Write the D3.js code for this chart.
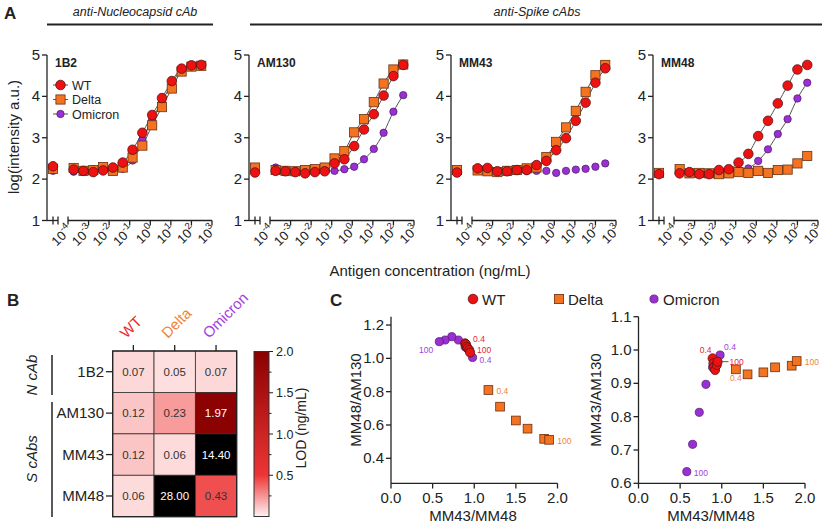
<!DOCTYPE html>
<html><head><meta charset="utf-8">
<script src="https://cdn.jsdelivr.net/npm/d3@7"></script>
<style>body{margin:0;background:#fff} text{font-family:Arial,"Liberation Sans",sans-serif;fill:#222}</style>
</head><body>
<svg id="c" width="825" height="531"></svg>
<script>
// ---------- DATA ----------
const concentrations = [0.000188,0.000565,0.001694,0.00508,0.01524,0.0457,0.1372,0.4115,1.235,3.704,11.11,33.33,100,300];
const panelNames = ["1B2","AM130","MM43","MM48"];
const tickExponents = [-4,-3,-2,-1,0,1,2,3];
const yTicksA = [1,2,3,4,5];

const wt1B2      = [2.23,2.20,2.17,2.21,2.28,2.40,2.71,3.12,3.55,3.96,4.37,4.67,4.75,4.76];
const delta1B2   = [2.27,2.20,2.22,2.29,2.20,2.28,2.52,2.81,3.30,3.74,4.19,4.60,4.72,4.74];
const omicron1B2 = [2.18,2.20,2.24,2.22,2.20,2.25,2.45,2.95,3.45,3.88,4.30,4.64,4.73,4.75];

const wtAM130      = [2.20,2.19,2.17,2.14,2.17,2.19,2.38,2.48,2.80,3.20,3.57,4.02,4.49,4.76];
const deltaAM130   = [2.22,2.20,2.19,2.22,2.24,2.28,2.50,2.68,3.13,3.45,3.86,4.31,4.65,4.77];
const omicronAM130 = [2.28,2.20,2.19,2.18,2.19,2.20,2.20,2.24,2.30,2.48,2.73,3.12,3.63,4.03];

const wtMM43      = [2.26,2.27,2.19,2.19,2.22,2.22,2.34,2.44,2.70,2.99,3.41,3.85,4.33,4.68];
const deltaMM43   = [2.21,2.19,2.17,2.20,2.22,2.26,2.28,2.53,2.90,3.25,3.65,4.11,4.51,4.76];
const omicronMM43 = [2.20,2.20,2.18,2.20,2.20,2.20,2.20,2.20,2.15,2.20,2.23,2.25,2.30,2.38];

const wtMM48      = [2.14,2.17,2.12,2.12,2.22,2.24,2.40,2.61,3.04,3.41,3.83,4.26,4.65,4.76];
const deltaMM48   = [2.24,2.14,2.15,2.14,2.12,2.14,2.17,2.15,2.20,2.15,2.22,2.23,2.38,2.56];
const omicronMM48 = [2.15,2.15,2.14,2.14,2.15,2.16,2.20,2.26,2.44,2.72,3.09,3.45,3.95,4.33];

const blankWT      = [2.31,2.16,2.16,2.12];
const blankDelta   = [2.25,2.28,2.22,2.15];
const blankOmicron = [2.20,2.20,2.20,2.15];

// which series carry a fitted curve in each panel
const curveWT      = [true,true,true,true];
const curveDelta   = [true,true,true,false];
const curveOmicron = [true,true,false,true];

// Panel B
const heatRows = ["1B2","AM130","MM43","MM48"];
const heatCols = ["WT","Delta","Omicron"];
const lodWT      = [0.07,0.12,0.12,0.06];
const lodDelta   = [0.05,0.23,0.06,28.00];
const lodOmicron = [0.07,1.97,14.40,0.43];
const colorbarTicks = [0.5,1.0,1.5,2.0];

// Panel C  (ratios at 0.4 -> 100 ng/mL)
const ratioConc = [0.4,1.2,3.7,11,33,100];
const wtRatioX      = [0.89,0.90,0.91,0.92,0.94,0.95];
const deltaRatioX   = [1.17,1.31,1.50,1.64,1.84,1.90];
const omicronRatioX = [0.98,0.89,0.81,0.73,0.65,0.58];
const wtMM48AM130      = [1.09,1.085,1.07,1.06,1.05,1.035];
const deltaMM48AM130   = [0.81,0.71,0.627,0.578,0.517,0.511];
const omicronMM48AM130 = [1.005,1.07,1.11,1.13,1.11,1.10];
const wtMM43AM130      = [0.975,0.96,0.95,0.94,0.955,0.965];
const deltaMM43AM130   = [0.942,0.927,0.933,0.948,0.953,0.967];
const omicronMM43AM130 = [0.985,0.948,0.897,0.813,0.717,0.635];
const cXTicks = [0.0,0.5,1.0,1.5,2.0];
const cLeftYTicks = [0.4,0.6,0.8,1.0,1.2];
const cRightYTicks = [0.6,0.7,0.8,0.9,1.0,1.1];

// ---------- STYLE ----------
const colWT = "#ee1111", colDelta = "#f47320", colOm = "#9a2fd4";
const strokeWT = "#5a1414", strokeDelta = "#6a3010", strokeOm = "#4a1866";
const labelCol = {WT:"#e8262e", Delta:"#f0843a", Omicron:"#a43ee0"};
const svg = d3.select("#c");

function marker(g, type, cx, cy, s) {
  s = s || 1;
  if (type === "Delta") {
    g.append("rect").attr("x",cx-4.6*s).attr("y",cy-4.6*s).attr("width",9.2*s).attr("height",9.2*s)
      .attr("fill",colDelta).attr("stroke",strokeDelta).attr("stroke-width",0.8);
  } else if (type === "WT") {
    g.append("circle").attr("cx",cx).attr("cy",cy).attr("r",4.8*s)
      .attr("fill",colWT).attr("stroke",strokeWT).attr("stroke-width",0.8);
  } else {
    g.append("circle").attr("cx",cx).attr("cy",cy).attr("r",3.7*s)
      .attr("fill",colOm).attr("stroke",strokeOm).attr("stroke-width",0.7);
  }
}
function ln(g,x1,y1,x2,y2,w,c){return g.append("line").attr("x1",x1).attr("y1",y1).attr("x2",x2).attr("y2",y2).attr("stroke",c||"#222").attr("stroke-width",w||1.3);}

// ---------- PANEL A ----------
svg.append("text").attr("x",4).attr("y",19).attr("font-size",17).attr("font-weight","bold").text("A");
svg.append("text").attr("x",135).attr("y",16).attr("text-anchor","middle").attr("font-size",12.5).attr("font-style","italic").text("anti-Nucleocapsid cAb");
ln(svg,47,24.5,213,24.5,2);
svg.append("text").attr("x",537).attr("y",16).attr("text-anchor","middle").attr("font-size",12.5).attr("font-style","italic").text("anti-Spike cAbs");
ln(svg,250,24.5,822,24.5,2);

const yA = d3.scaleLinear().domain([1,5]).range([220.5,55]);
const seriesA = {
  WT:      {vals:[wt1B2,wtAM130,wtMM43,wtMM48], blank:blankWT, curve:curveWT},
  Delta:   {vals:[delta1B2,deltaAM130,deltaMM43,deltaMM48], blank:blankDelta, curve:curveDelta},
  Omicron: {vals:[omicron1B2,omicronAM130,omicronMM43,omicronMM48], blank:blankOmicron, curve:curveOmicron}
};
const drawOrder = ["Omicron","Delta","WT"];

panelNames.forEach((name,i)=>{
  const ax = 47 + 202*i;
  const x = d3.scaleLog().domain([1e-4,1e3]).range([ax+21, ax+165]);
  const bx = ax + 6;
  const g = svg.append("g");
  // y axis
  ln(g,ax,yA(1),ax,yA(5));
  yTicksA.forEach(t=>{
    ln(g,ax-5,yA(t),ax,yA(t));
    g.append("text").attr("x",ax-7).attr("y",yA(t)+5).attr("text-anchor","end").attr("font-size",15).text(t);
  });
  // blank segment
  ln(g,ax,yA(1),ax+11,yA(1));
  ln(g,bx,yA(1)-4,bx,yA(1)+4);
  ln(g,ax+11,yA(1)-4,ax+11,yA(1)+4);
  // main segment
  ln(g,x(1e-4),yA(1),x(1e3),yA(1));
  tickExponents.forEach(e=>{
    const tx = x(Math.pow(10,e));
    if (e === -4) ln(g,tx,yA(1)-4,tx,yA(1)+4);
    else ln(g,tx,yA(1),tx,yA(1)+5);
    const t = g.append("text").attr("transform",`translate(${tx+5},${yA(1)+10}) rotate(-45)`)
      .attr("text-anchor","end").attr("font-size",13);
    t.append("tspan").text("10");
    t.append("tspan").attr("dy",-6).attr("font-size",9.5).text(e);
  });
  // curves
  drawOrder.forEach(s=>{
    if (!seriesA[s].curve[i]) return;
    const pts = concentrations.map((c,k)=>({c, v:seriesA[s].vals[i][k]}));
    g.append("path").datum(pts).attr("fill","none").attr("stroke","#555").attr("stroke-width",1)
      .attr("d", d3.line().x(d=>x(d.c)).y(d=>yA(d.v)).curve(d3.curveMonotoneX));
  });
  // markers
  drawOrder.forEach(s=>{
    marker(g, s, bx, yA(seriesA[s].blank[i]));
    concentrations.forEach((c,k)=> marker(g, s, x(c), yA(seriesA[s].vals[i][k])));
  });
  g.append("text").attr("x",ax+8).attr("y",67).attr("font-size",12).attr("font-weight","bold").text(name);
  if (i===0) {
    ["WT","Delta","Omicron"].forEach((s,k)=>{
      const ly = 85 + k*14.5;
      ln(g,ax+6,ly,ax+21,ly,1,"#555");
      marker(g,s,ax+13.5,ly);
      g.append("text").attr("x",ax+25).attr("y",ly+4.5).attr("font-size",12.5).text(s);
    });
  }
});
svg.append("text").attr("transform","translate(19,137) rotate(-90)").attr("text-anchor","middle").attr("font-size",15).text("log(intensity a.u.)");
svg.append("text").attr("x",430).attr("y",276).attr("text-anchor","middle").attr("font-size",15).text("Antigen concentration (ng/mL)");

// ---------- PANEL B ----------
svg.append("text").attr("x",7).attr("y",306).attr("font-size",17).attr("font-weight","bold").text("B");
const hx = d3.scaleBand().domain(heatCols).range([112.7,236.7]);
const hy = d3.scaleBand().domain(heatRows).range([351,516.7]);
const heatColor = d3.scaleLinear().domain([0,0.5,2]).range(["#fff2f2","#ee3535","#8a0000"]).clamp(true);
const fillOf = v => v > 2 ? "#000" : heatColor(v);
const lodCols = {WT:lodWT, Delta:lodDelta, Omicron:lodOmicron};
const gb = svg.append("g");
heatCols.forEach(c=>{
  heatRows.forEach((r,k)=>{
    const v = lodCols[c][k];
    gb.append("rect").attr("x",hx(c)).attr("y",hy(r)).attr("width",hx.bandwidth()).attr("height",hy.bandwidth())
      .attr("fill",fillOf(v)).attr("stroke","#333").attr("stroke-width",0.8);
    gb.append("text").attr("x",hx(c)+hx.bandwidth()/2).attr("y",hy(r)+hy.bandwidth()/2+4)
      .attr("text-anchor","middle").attr("font-size",11.5)
      .style("fill", v>=1.5 ? "#fff" : "#333").text(v.toFixed(2));
  });
});
gb.append("rect").attr("x",112.7).attr("y",351).attr("width",124).attr("height",165.7).attr("fill","none").attr("stroke","#222").attr("stroke-width",1.3);
heatCols.forEach(c=>{
  const cx = hx(c)+hx.bandwidth()/2;
  ln(gb,cx,345,cx,351);
  gb.append("text").attr("transform",`translate(${cx-7},339) rotate(-45)`).attr("font-size",15)
    .style("fill",labelCol[c]).text(c);
});
heatRows.forEach(r=>{
  const cy = hy(r)+hy.bandwidth()/2;
  ln(gb,106,cy,112.7,cy);
  gb.append("text").attr("x",104).attr("y",cy+5).attr("text-anchor","end").attr("font-size",15).text(r);
});
ln(gb,52,355,52,395,1.5);
ln(gb,52,402,52,517,1.5);
gb.append("text").attr("transform","translate(37,375) rotate(-90)").attr("text-anchor","middle").attr("font-size",15).attr("font-style","italic").text("N cAb");
gb.append("text").attr("transform","translate(37,459) rotate(-90)").attr("text-anchor","middle").attr("font-size",15).attr("font-style","italic").text("S cAbs");
// colorbar
const cbY = d3.scaleLinear().domain([0,2]).range([516.5,351.5]);
const grad = svg.append("defs").append("linearGradient").attr("id","cb").attr("x1",0).attr("y1",1).attr("x2",0).attr("y2",0);
d3.range(0,21).forEach(k=>grad.append("stop").attr("offset",k/20).attr("stop-color",heatColor(k/10)));
gb.append("rect").attr("x",254).attr("y",351.5).attr("width",15).attr("height",165).attr("fill","url(#cb)").attr("stroke","#333").attr("stroke-width",1);
[0.25,0.5,0.75,1.0,1.25,1.5,1.75,2.0].forEach(t=> ln(gb,269,cbY(t),t%0.5===0?273:271.5,cbY(t),1));
colorbarTicks.forEach(t=> gb.append("text").attr("x",276).attr("y",cbY(t)+4.5).attr("font-size",12.5).text(t.toFixed(1)));
gb.append("text").attr("transform","translate(306,428) rotate(-90)").attr("text-anchor","middle").attr("font-size",14).text("LOD (ng/mL)");

// ---------- PANEL C ----------
svg.append("text").attr("x",330).attr("y",306).attr("font-size",17).attr("font-weight","bold").text("C");
// legend
[["WT",473],["Delta",559],["Omicron",654]].forEach(([s,lx])=>{
  marker(svg,s,lx,299, s==="Omicron"?1.1:1);
  svg.append("text").attr("x",lx+9).attr("y",304.5).attr("font-size",15).text(s);
});

function scatter(opt){
  const g = svg.append("g");
  const x = d3.scaleLinear().domain([0,2]).range([opt.x0,opt.x0+166.5]);
  const y = d3.scaleLinear().domain(opt.yDom).range([483.3,316.7]);
  ln(g,opt.x0,483.3,opt.x0,316.7);
  ln(g,opt.x0,483.3,opt.x0+166.5,483.3);
  opt.yTicks.forEach(t=>{
    ln(g,opt.x0-5,y(t),opt.x0,y(t));
    g.append("text").attr("x",opt.x0-7).attr("y",y(t)+5).attr("text-anchor","end").attr("font-size",15).text(t.toFixed(1));
  });
  cXTicks.forEach(t=>{
    ln(g,x(t),483.3,x(t),488.5);
    g.append("text").attr("x",x(t)).attr("y",503).attr("text-anchor","middle").attr("font-size",15).text(t.toFixed(1));
  });
  g.append("text").attr("x",opt.xLabelX).attr("y",521).attr("text-anchor","middle").attr("font-size",15).text("MM43/MM48");
  g.append("text").attr("transform",`translate(${opt.yLabelX},400) rotate(-90)`).attr("text-anchor","middle").attr("font-size",15).text(opt.yLabel);
  const ser = {Omicron:[omicronRatioX,opt.ys.Omicron], Delta:[deltaRatioX,opt.ys.Delta], WT:[wtRatioX,opt.ys.WT]};
  ["Omicron","WT","Delta"].forEach(s=>{
    ser[s][0].forEach((xv,k)=> marker(g,s,x(xv),y(ser[s][1][k]), s==="Omicron"?1.1:0.95));
  });
  opt.notes.forEach(n=>{
    const px = x(ser[n.s][0][n.i]), py = y(ser[n.s][1][n.i]);
    if (n.lead) ln(g,px+4,py,px+n.dx-1,py,0.8,"#333");
    g.append("text").attr("x",px+n.dx).attr("y",py+n.dy).attr("text-anchor",n.a||"start").attr("font-size",8.5)
      .style("fill",labelCol[n.s]).text(ratioConc[n.i]===0.4?"0.4":"100");
  });
}
scatter({x0:391, yDom:[0.25,1.25], yTicks:cLeftYTicks, yLabel:"MM48/AM130", yLabelX:361, xLabelX:473,
  ys:{WT:wtMM48AM130, Delta:deltaMM48AM130, Omicron:omicronMM48AM130},
  notes:[{s:"Omicron",i:5,dx:-6,dy:11,a:"end"},{s:"WT",i:0,dx:8,dy:-1},{s:"WT",i:5,dx:7,dy:0},
         {s:"Omicron",i:0,dx:7,dy:5},{s:"Delta",i:0,dx:8,dy:4},{s:"Delta",i:5,dx:8,dy:4}]});
scatter({x0:638.5, yDom:[0.6,1.1], yTicks:cRightYTicks, yLabel:"MM43/AM130", yLabelX:601, xLabelX:711,
  ys:{WT:wtMM43AM130, Delta:deltaMM43AM130, Omicron:omicronMM43AM130},
  notes:[{s:"WT",i:0,dx:-1,dy:-5,a:"end"},{s:"Omicron",i:0,dx:4,dy:-5},{s:"WT",i:5,dx:12,dy:3,lead:true},
         {s:"Delta",i:0,dx:0,dy:12,a:"middle"},{s:"Delta",i:5,dx:8,dy:4},{s:"Omicron",i:5,dx:7,dy:4}]});
</script>
</body></html>
